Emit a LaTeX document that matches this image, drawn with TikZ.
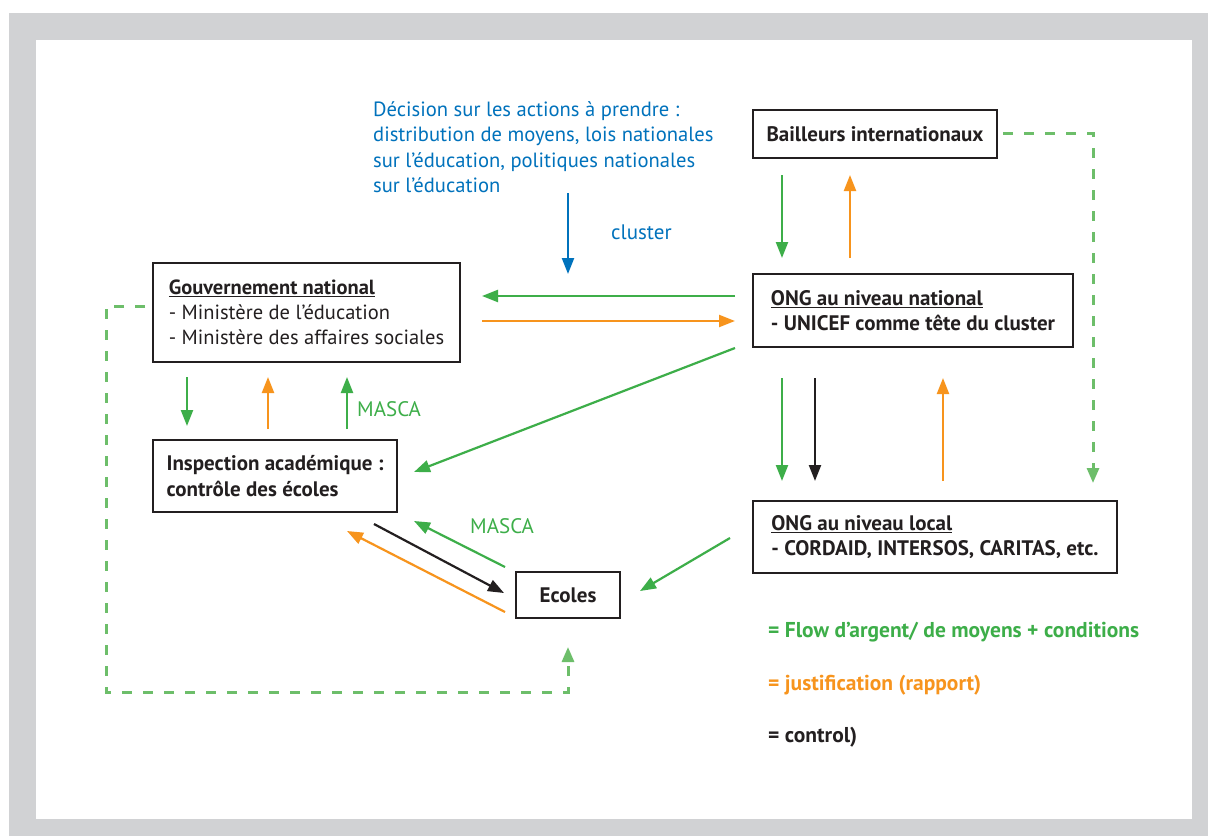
\documentclass[tikz,border=0pt]{standalone}
\usepackage{fontspec}
\setmainfont{PT Sans}
\usetikzlibrary{arrows.meta}
\definecolor{grn}{HTML}{3DAE49}
\definecolor{dgrn}{HTML}{6DBE6A}
\definecolor{org}{HTML}{F7941D}
\definecolor{blu}{HTML}{0072BC}
\definecolor{blk}{HTML}{231F20}
\definecolor{framegrey}{HTML}{D1D2D4}
\begin{document}
\begin{tikzpicture}[x=1pt,y=-1pt,
  box/.style={draw=blk, line width=2.2pt, inner sep=0pt, align=left,
    font=\fontsize{20.5}{25}\selectfont, text=blk},
  bbox/.style={box, font=\fontsize{21}{25}\selectfont\bfseries},
  arr/.style={line width=2.2pt, -{Triangle[length=16pt,width=12pt]}},
  dash arr/.style={dgrn, line width=3pt, dash pattern=on 10pt off 11pt, -{Triangle[length=15pt,width=12pt]}},
  lbl/.style={inner sep=0pt, font=\fontsize{21}{25}\selectfont},
  leg/.style={inner sep=0pt, anchor=west, font=\fontsize{21.5}{25}\selectfont\bfseries}
]
\useasboundingbox (0,0) rectangle (1208,836);
\fill[framegrey] (9,13) rectangle (1208,836);
\fill[white] (36,40) rectangle (1192,819);

% boxes
\node[bbox, minimum width=244pt, minimum height=48pt] (bail) at (875,134) {Bailleurs internationaux};
\node[bbox, minimum width=320pt, minimum height=73pt] (ongn) at (913,310.5) {\underline{ONG au niveau national}\\- UNICEF comme tête du cluster};
\node[bbox, minimum width=364pt, minimum height=72pt] (ongl) at (935,537) {\underline{ONG au niveau local}\\- CORDAID, INTERSOS, CARITAS, etc.};
\node[box, minimum width=307pt, minimum height=99pt] (gov) at (306.5,312.5) {\textbf{\underline{Gouvernement national}}\\- Ministère de l’éducation\\- Ministère des affaires sociales};
\node[bbox, minimum width=244pt, minimum height=72pt, font=\fontsize{21}{26}\selectfont\bfseries] (insp) at (275,476) {Inspection académique :\\contrôle des écoles};
\node[bbox, minimum width=104pt, minimum height=46pt, align=center] (ecol) at (568,595) {Ecoles};

% blue text
\node[lbl, text=blu, anchor=north west, align=left, font=\fontsize{20.6}{25.5}\selectfont] (dec) at (373,101) {Décision sur les actions à prendre :\\distribution de moyens, lois nationales\\sur l’éducation, politiques nationales\\sur l’éducation};
\coordinate (bluS) at (568,193);
\coordinate (bluE) at (568,274);
\draw[arr, blu] (bluS) -- (bluE);
\node[lbl, text=blu, anchor=west] (clu) at (611,232) {cluster};

% Bailleurs <-> ONG national
\coordinate (a1) at (782,175); \coordinate (a2) at (782,258);
\draw[arr, grn] (a1) -- (a2);
\coordinate (a3) at (850,258); \coordinate (a4) at (850,175);
\draw[arr, org] (a3) -- (a4);

% ONG national <-> Gouvernement
\coordinate (b1) at (735,296); \coordinate (b2) at (482,296);
\draw[arr, grn] (b1) -- (b2);
\coordinate (b3) at (482,321); \coordinate (b4) at (735,321);
\draw[arr, org] (b3) -- (b4);

% ONG national -> Inspection
\coordinate (c1) at (735,348); \coordinate (c2) at (414,472);
\draw[arr, grn] (c1) -- (c2);

% Gouvernement <-> Inspection
\coordinate (d1) at (187,377); \coordinate (d2) at (187,426);
\draw[arr, grn] (d1) -- (d2);
\coordinate (d3) at (268,429); \coordinate (d4) at (268,377);
\draw[arr, org] (d3) -- (d4);
\coordinate (d5) at (347,429); \coordinate (d6) at (347,377);
\draw[arr, grn] (d5) -- (d6);
\node[lbl, text=grn, anchor=west] (m1) at (357,409) {MASCA};

% Inspection <-> Ecoles
\coordinate (e1) at (374,524); \coordinate (e2) at (504,593);
\draw[arr, blk] (e1) -- (e2);
\coordinate (e3) at (505,567); \coordinate (e4) at (414,521);
\draw[arr, grn] (e3) -- (e4);
\node[lbl, text=grn, anchor=west] (m2) at (470,526) {MASCA};
\coordinate (e5) at (505,612); \coordinate (e6) at (347,531);
\draw[arr, org] (e5) -- (e6);

% ONG local -> Ecoles
\coordinate (f1) at (730,538); \coordinate (f2) at (640,591);
\draw[arr, grn] (f1) -- (f2);

% ONG national <-> ONG local
\coordinate (g1) at (782,378); \coordinate (g2) at (782,481);
\draw[arr, grn] (g1) -- (g2);
\coordinate (g3) at (815,378); \coordinate (g4) at (815,481);
\draw[arr, blk] (g3) -- (g4);
\coordinate (g5) at (943,481); \coordinate (g6) at (943,378);
\draw[arr, org] (g5) -- (g6);

% dashed lines
\coordinate (h1) at (1003,133); \coordinate (h2) at (1093,133); \coordinate (h3) at (1093,483);
\draw[dash arr] (h1) -- (h2) -- (h3);
\coordinate (k1) at (145,306); \coordinate (k2) at (106,306); \coordinate (k3) at (106,692);
\coordinate (k4) at (568,692); \coordinate (k5) at (568,647);
\draw[dash arr] (k1) -- (k2) -- (k3) -- (k4) -- (k5);

% legend
\node[leg, text=grn] (l1) at (768,632) {= Flow d’argent/ de moyens + conditions};
\node[leg, text=org] (l2) at (768,685) {= justification (rapport)};
\node[leg, text=blk] (l3) at (768,737) {= control)};
\end{tikzpicture}
\end{document}
